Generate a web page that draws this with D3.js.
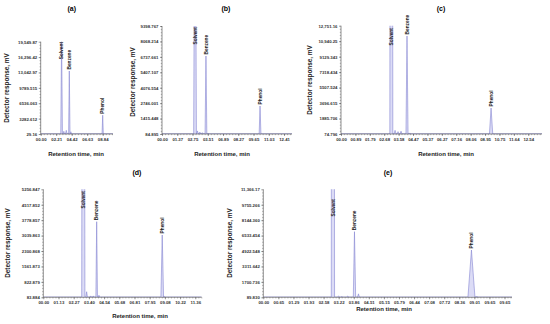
<!DOCTYPE html>
<html>
<head>
<meta charset="utf-8">
<script src="https://cdn.jsdelivr.net/npm/d3@7"></script>
<style>
  body { margin: 0; background: #fff; }
  text { font-family: "Liberation Sans", Arial, sans-serif; }
</style>
</head>
<body>
<div id="chart"></div>
<script>
// y tick labels (mV), bottom to top, as printed
const yTicksA = ["29.16", "3282.612", "6536.063", "9789.515", "13,042.97", "16,296.42", "19,549.87"];
const yTicksB = ["84.895", "1415.448", "2746.001", "4076.554", "5407.107", "6737.661", "8068.214", "9398.767"];
const yTicksC = ["74.796", "1885.706", "3696.615", "5507.524", "7318.434", "9129.343", "10,940.25", "12,751.16"];
const yTicksD = ["83.884", "822.879", "1561.873", "2300.868", "3039.863", "3778.857", "4517.852", "5256.847"];
const yTicksE = ["89.830", "1700.736", "3311.642", "4922.548", "6533.454", "8144.360", "9755.266", "11,366.17"];

// x tick labels (min), as printed
const xTicksA = ["00.00", "02.21", "04.42", "06.63", "08.84"];
const xTicksB = ["00.00", "01.37", "02.75", "03.51", "06.89", "08.27", "09.65", "11.03", "12.41"];
const xTicksC = ["00.00", "00.89", "01.79", "02.68", "03.58", "04.47", "05.37", "06.27", "07.16", "08.06", "08.95", "10.75", "11.64", "12.54"];
const xTicksD = ["00.00", "01.13", "02.27", "03.40", "04.54", "05.68", "06.81", "07.95", "09.08", "10.22", "11.36"];
const xTicksE = ["00.00", "00.65", "01.29", "01.93", "02.58", "03.22", "03.86", "04.51", "05.15", "05.79", "06.44", "07.08", "07.72", "08.36", "09.01", "09.65", "09.65"];

// peaks: [retention time (min), response (mV), half width (min), name, label base (mV)]
const peaksA = [
  [2.98, 20500, 0.12, "Solvent", 15500],
  [4.08, 13350, 0.1, "Benzene", 13350],
  [8.84, 4000, 0.09, "Phenol", 4000],
  [3.3, 600, 0.1], [3.65, 800, 0.12], [4.3, 500, 0.08]
];
const peaksB = [
  [3.36, 30000, 0.14, "Solvent", 7674],
  [4.47, 6811, 0.09, "Benzene", 6811],
  [9.97, 2500, 0.09, "Phenol", 2500],
  [3.6, 350, 0.1], [3.85, 250, 0.08], [4.1, 200, 0.08], [4.7, 150, 0.06]
];
const peaksC = [
  [3.37, 200000, 0.1, "Solvent", 10258],
  [4.42, 11546, 0.07, "Benzene", 11546],
  [10.05, 3118, 0.11, "Phenol", 3118],
  [3.62, 500, 0.07], [3.82, 350, 0.07], [4.02, 400, 0.07], [4.6, 200, 0.06]
];
const peaksD = [
  [2.99, 60000, 0.12, "Solvent", 4265],
  [3.99, 3705, 0.06, "Benzene", 3705],
  [8.89, 3068, 0.1, "Phenol", 3068],
  [3.24, 350, 0.06], [3.54, 150, 0.06], [3.74, 150, 0.06], [4.16, 180, 0.06], [9.02, 120, 0.08]
];
const peaksE = [
  [2.97, 300000, 0.07, "Solvent", 8368],
  [3.89, 6939, 0.05, "Benzene", 6939],
  [8.88, 5028, 0.15, "Phenol", 5028],
  [3.21, 200, 0.05], [3.35, 150, 0.04], [3.6, 200, 0.05], [4.06, 450, 0.04], [9.1, 150, 0.06]
];

// layout of the five panels
const panels = [
  { id: "a", yTicks: yTicksA, xTicks: xTicksA, peaks: peaksA, xEnd: 8.84, xMax: 10.31,
    left: 40.7, right: 113, top: 41.7, bottom: 134, title: [71.7, 8.5], ylab: [7, 88], xlab: [76, 154] },
  { id: "b", yTicks: yTicksB, xTicks: xTicksB, peaks: peaksB, xEnd: 12.41, xMax: 13.22,
    left: 162, right: 292, top: 26, bottom: 134, title: [226, 8.5], ylab: [133, 82], xlab: [222, 154] },
  { id: "c", yTicks: yTicksC, xTicks: xTicksC, peaks: peaksC, xEnd: 12.54, xMax: 13.46,
    left: 341, right: 542, top: 25.7, bottom: 134, title: [441, 8.5], ylab: [310, 80], xlab: [446, 154] },
  { id: "d", yTicks: yTicksD, xTicks: xTicksD, peaks: peaksD, xEnd: 11.36, xMax: 11.84,
    left: 43.3, right: 201.7, top: 189.3, bottom: 297.3, title: [137, 173], ylab: [8, 243], xlab: [140, 316] },
  { id: "e", yTicks: yTicksE, xTicks: xTicksE, peaks: peaksE, xEnd: 10.29, xMax: 10.61,
    left: 263.3, right: 512, top: 189.3, bottom: 297.3, title: [388, 173], ylab: [230, 243], xlab: [384, 309] }
];

const svg = d3.select("#chart").append("svg")
  .attr("width", 550)
  .attr("height", 324);

const num = (s) => +s.replace(/,/g, "");

function drawPanel(p) {
  const g = svg.append("g");
  const yVals = p.yTicks.map(num);
  const x = d3.scaleLinear().domain([0, p.xMax]).range([p.left, p.right]);
  const y = d3.scaleLinear().domain([yVals[0], yVals[yVals.length - 1]]).range([p.bottom, p.top]);

  // x ticks evenly spread from 0 to the last printed label
  const step = p.xEnd / (p.xTicks.length - 1);
  const xVals = p.xTicks.map((d, i) => i * step);
  const xMinor = d3.range(0, p.xMax + 1e-6, step / 5);
  const yStep = yVals[1] - yVals[0];
  const yMinor = d3.range(yVals[0], yVals[yVals.length - 1] + 1e-6, yStep / 5);

  // clip for the trace
  g.append("clipPath").attr("id", "clip-" + p.id)
    .append("rect")
    .attr("x", p.left).attr("y", p.top)
    .attr("width", p.right - p.left).attr("height", p.bottom - p.top);

  const trace = g.append("g").attr("clip-path", `url(#clip-${p.id})`);
  const base = yVals[0];

  // baseline
  trace.append("line")
    .attr("x1", x(0)).attr("x2", x(p.xMax))
    .attr("y1", y(base) - 0.5).attr("y2", y(base) - 0.5)
    .attr("stroke", "#9a9ad8").attr("stroke-width", 0.6);

  const line = d3.line().x((d) => x(d[0])).y((d) => y(d[1]));
  trace.selectAll("path.peak")
    .data(p.peaks)
    .join("path")
    .attr("class", "peak")
    .attr("d", (d) => line([[d[0] - d[2], base], [d[0], d[1]], [d[0] + d[2], base]]))
    .attr("fill", "#dcdcf6")
    .attr("stroke", "#8585d2")
    .attr("stroke-width", 0.6);

  // minor ticks
  g.append("g")
    .attr("transform", `translate(0,${p.bottom})`)
    .call(d3.axisBottom(x).tickValues(xMinor).tickSize(1.2).tickFormat(""))
    .call((a) => a.select(".domain").remove())
    .selectAll("line").attr("stroke", "#555").attr("stroke-width", 0.4);
  g.append("g")
    .attr("transform", `translate(${p.left},0)`)
    .call(d3.axisLeft(y).tickValues(yMinor).tickSize(1.2).tickFormat(""))
    .call((a) => a.select(".domain").remove())
    .selectAll("line").attr("stroke", "#555").attr("stroke-width", 0.4);

  // x axis
  const xa = g.append("g")
    .attr("transform", `translate(0,${p.bottom})`)
    .call(d3.axisBottom(x).tickValues(xVals).tickSize(2).tickPadding(1.5)
      .tickFormat((d, i) => p.xTicks[i]));
  xa.select(".domain").attr("d", `M${p.left},0H${p.right}`);

  // y axis
  const ya = g.append("g")
    .attr("transform", `translate(${p.left},0)`)
    .call(d3.axisLeft(y).tickValues(yVals).tickSize(2).tickPadding(1.5)
      .tickFormat((d, i) => p.yTicks[i]));
  ya.select(".domain").attr("d", `M0,${p.top}V${p.bottom}`);

  [xa, ya].forEach((a) => {
    a.select(".domain").attr("stroke", "#444").attr("stroke-width", 0.6);
    a.selectAll(".tick line").attr("stroke", "#444").attr("stroke-width", 0.5);
    a.selectAll(".tick text")
      .attr("font-family", "Liberation Sans, Arial, sans-serif")
      .attr("font-size", 4.3)
      .attr("font-weight", "bold")
      .attr("fill", "#333");
  });

  // peak names
  g.selectAll("text.pname")
    .data(p.peaks.filter((d) => d[3]))
    .join("text")
    .attr("class", "pname")
    .attr("transform", (d) => `translate(${x(d[0])},${y(d[4]) - 1.5}) rotate(-90)`)
    .attr("dy", "0.35em")
    .attr("font-size", 4.8)
    .attr("font-weight", "bold")
    .attr("fill", "#222")
    .text((d) => d[3]);

  // titles
  g.append("text")
    .attr("x", p.title[0]).attr("y", p.title[1])
    .attr("text-anchor", "middle").attr("dy", "0.35em")
    .attr("font-size", 7).attr("font-weight", "bold")
    .text(`(${p.id})`);

  g.append("text")
    .attr("transform", `translate(${p.ylab[0]},${p.ylab[1]}) rotate(-90)`)
    .attr("text-anchor", "middle").attr("dy", "0.35em")
    .attr("font-size", 6.4).attr("font-weight", "bold")
    .attr("fill", "#222")
    .text("Detector response, mV");

  g.append("text")
    .attr("x", p.xlab[0]).attr("y", p.xlab[1])
    .attr("text-anchor", "middle").attr("dy", "0.35em")
    .attr("font-size", 6).attr("font-weight", "bold")
    .attr("fill", "#222")
    .text("Retention time, min");
}

panels.forEach(drawPanel);
</script>
</body>
</html>
